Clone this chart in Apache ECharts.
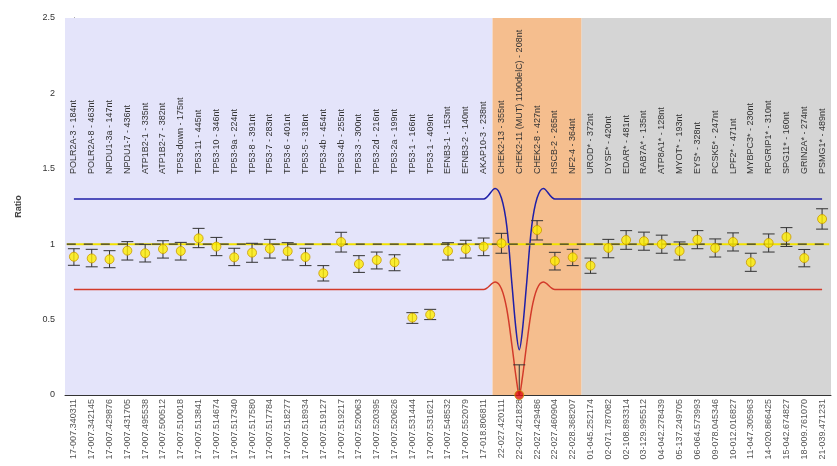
<!DOCTYPE html>
<html>
<head>
<meta charset="utf-8">
<script src="https://cdn.jsdelivr.net/npm/echarts@6/dist/echarts.min.js"></script>
<style>html,body{margin:0;padding:0;background:#fff}#c{width:837px;height:466px}</style>
</head>
<body>
<div id="c"></div>
<script>
// ---------- data ----------
const categories = [
  "POLR2A-3 - 184nt","POLR2A-8 - 463nt","NPDU1-3a - 147nt","NPDU1-7 - 436nt","ATP1B2-1 - 335nt",
  "ATP1B2-7 - 382nt","TP53-down - 175nt","TP53-11 - 445nt","TP53-10 - 346nt","TP53-9a - 224nt",
  "TP53-8 - 391nt","TP53-7 - 283nt","TP53-6 - 401nt","TP53-5 - 318nt","TP53-4b - 454nt",
  "TP53-4b - 255nt","TP53-3 - 300nt","TP53-2d - 216nt","TP53-2a - 199nt","TP53-1 - 166nt",
  "TP53-1 - 409nt","EFNB3-1 - 153nt","EFNB3-2 - 140nt","AKAP10-3 - 238nt","CHEK2-13 - 355nt",
  "CHEK2-11 (MUT) 1100delC) - 208nt","CHEK2-8 - 427nt","HSCB-2 - 265nt","NF2-4 - 364nt","UROD* - 372nt",
  "DYSF* - 420nt","EDAR* - 481nt","RAB7A* - 135nt","ATP8A1* - 128nt","MYOT* - 193nt",
  "EYS* - 328nt","PCSK5* - 247nt","LPF2* - 471nt","MYBPC3* - 230nt","RPGRIP1* - 310nt",
  "SPG11* - 160nt","GRIN2A* - 274nt","PSMG1* - 489nt"
];
const positions = [
  "17-007.340311","17-007.342145","17-007.429876","17-007.431705","17-007.495538",
  "17-007.500512","17-007.510018","17-007.513841","17-007.514674","17-007.517340",
  "17-007.517580","17-007.517784","17-007.518277","17-007.518934","17-007.519127",
  "17-007.519217","17-007.520063","17-007.520395","17-007.520626","17-007.531444",
  "17-007.531621","17-007.548532","17-007.552079","17-018.806811","22-027.420111",
  "22-027.421828","22-027.429486","22-027.460904","22-028.368207","01-045.252174",
  "02-071.787082","02-108.893314","03-129.995512","04-042.278439","05-137.249705",
  "06-064.573993","09-078.045346","10-012.016827","11-047.305963","14-020.866425",
  "15-042.674827","18-009.761070","21-039.471231"
];
const ratios = [
  0.917,0.906,0.900,0.957,0.940,0.968,0.955,1.039,0.984,0.913,
  0.944,0.970,0.953,0.915,0.807,1.015,0.869,0.895,0.880,0.513,
  0.533,0.955,0.968,0.984,1.006,0.000,1.094,0.889,0.913,0.858,
  0.975,1.028,1.020,1.000,0.955,1.030,0.975,1.015,0.880,1.008,
  1.048,0.908,1.167
];
const lowerBounds = [
  0.860,0.850,0.844,0.895,0.882,0.908,0.895,0.977,0.924,0.858,
  0.880,0.908,0.895,0.858,0.756,0.948,0.813,0.836,0.824,0.475,
  0.500,0.895,0.908,0.924,0.940,-0.200,1.028,0.829,0.858,0.807,
  0.910,0.966,0.960,0.940,0.895,0.970,0.915,0.955,0.820,0.948,
  0.985,0.850,1.100
];
const upperBounds = [
  0.970,0.966,0.957,1.017,0.999,1.023,1.012,1.105,1.045,0.973,
  1.006,1.032,1.010,0.973,0.858,1.079,0.924,0.948,0.930,0.546,
  0.568,1.010,1.026,1.041,1.072,0.200,1.156,0.946,0.966,0.908,
  1.032,1.090,1.080,1.060,1.015,1.090,1.035,1.075,0.940,1.068,
  1.110,0.965,1.235
];
// upper (blue) and lower (red) threshold curves: x in category index units
const upperCurveX = [0, 22.5, 23, 23.65, 24, 24.3, 24.6, 24.83, 25, 25.17, 25.4, 25.7, 26, 26.35, 27, 27.5, 42];
const upperCurveY = [1.3, 1.3, 1.3, 1.37, 1.306, 1.12, 0.72, 0.42, 0.3, 0.42, 0.72, 1.12, 1.306, 1.37, 1.3, 1.3, 1.3];
const lowerCurveX = [0, 22.5, 23, 23.65, 24, 24.3, 24.6, 24.83, 25, 25.17, 25.4, 25.7, 26, 26.35, 27, 27.5, 42];
const lowerCurveY = [0.7, 0.7, 0.7, 0.75, 0.705, 0.57, 0.32, 0.11, 0.0, 0.11, 0.32, 0.57, 0.705, 0.75, 0.7, 0.7, 0.7];
const referenceLevel = 1.0;
const groupSizes = [24, 5, 14];

// ---------- chart ----------
const LABEL_START = 1.465;
const bandColors = ['#E4E4FA', '#F5BE8E', '#D5D5D5'];
const bands = [];
let start = -0.5;
groupSizes.forEach((n, k) => {
  bands.push([{ xAxis: start, yAxis: 0, itemStyle: { color: bandColors[k] } }, { xAxis: start + n, yAxis: 2.5 }]);
  start += n;
});
const n = categories.length;
const chart = echarts.init(document.getElementById('c'));
chart.setOption({
  animation: false,
  backgroundColor: '#fff',
  grid: { left: 65, right: 6, top: 18, bottom: 71 },
  xAxis: [
    {
      type: 'category', data: positions, position: 'bottom',
      axisLine: { lineStyle: { color: '#333' } },
      axisTick: { alignWithLabel: true, length: 5, lineStyle: { color: '#333' } },
      axisLabel: { rotate: 90, fontSize: 9, color: '#555', fontFamily: 'Liberation Sans, Arial', margin: 4, interval: 0 }
    },
    { type: 'value', min: -0.5, max: n - 0.5, show: false }
  ],
  yAxis: {
    type: 'value', min: 0, max: 2.5, interval: 0.5, offset: 8,
    name: 'Ratio', nameLocation: 'middle', nameGap: 34, nameRotate: 90,
    nameTextStyle: { fontSize: 9, fontWeight: 'bold', color: '#444', fontFamily: 'Liberation Sans, Arial' },
    axisLine: { show: true, lineStyle: { color: '#333' } },
    axisTick: { show: true, length: 8, lineStyle: { color: '#333' } },
    splitLine: { show: false },
    axisLabel: { fontSize: 9, color: '#333', margin: 2, fontFamily: 'Liberation Sans, Arial',
      formatter: v => String(v) }
  },
  series: [
    {
      type: 'line', xAxisIndex: 1, smooth: 0.35, symbol: 'none', z: 3,
      lineStyle: { color: '#1F1FA8', width: 1.5 },
      data: upperCurveX.map((x, i) => [x, upperCurveY[i]])
    },
    {
      type: 'line', xAxisIndex: 1, smooth: 0.35, symbol: 'none', z: 3,
      lineStyle: { color: '#D23A2A', width: 1.5 },
      data: lowerCurveX.map((x, i) => [x, lowerCurveY[i]])
    },
    {
      type: 'line', xAxisIndex: 1, symbol: 'none', z: 4,
      lineStyle: { color: '#F2E200', width: 2 },
      data: [[-0.4, referenceLevel], [n - 0.6, referenceLevel]],
      markArea: { silent: true, label: { show: false }, data: bands }
    },
    {
      type: 'line', xAxisIndex: 1, symbol: 'none', z: 4,
      lineStyle: { color: '#333', width: 1.2, type: [9, 8] },
      data: [[-0.4, referenceLevel], [n - 0.6, referenceLevel]]
    },
    {
      type: 'custom', z: 5, clip: true,
      data: ratios.map((v, i) => [i, lowerBounds[i], upperBounds[i]]),
      renderItem: (params, api) => {
        const lo = api.coord([api.value(0), api.value(1)]);
        const hi = api.coord([api.value(0), api.value(2)]);
        const w = 6;
        const st = { stroke: '#333', lineWidth: 1 };
        return {
          type: 'group', children: [
            { type: 'line', shape: { x1: lo[0], y1: lo[1], x2: hi[0], y2: hi[1] }, style: st },
            { type: 'line', shape: { x1: lo[0] - w, y1: lo[1], x2: lo[0] + w, y2: lo[1] }, style: st },
            { type: 'line', shape: { x1: hi[0] - w, y1: hi[1], x2: hi[0] + w, y2: hi[1] }, style: st }
          ]
        };
      }
    },
    {
      type: 'scatter', z: 6, symbolSize: 9,
      data: ratios.map((v, i) => [i, v]),
      itemStyle: {
        color: p => (p.data[1] <= 0.05 ? '#E01010' : '#FFEE00'),
        borderColor: '#C99A00', borderWidth: 1
      }
    },
    {
      type: 'custom', z: 7,
      data: categories.map((c, i) => [i, LABEL_START]),
      renderItem: (params, api) => {
        const p = api.coord([api.value(0), api.value(1)]);
        return {
          type: 'text', x: p[0], y: p[1], rotation: Math.PI / 2,
          style: { text: categories[params.dataIndex], x: 0, y: 0, align: 'left', verticalAlign: 'middle',
            fontSize: 9, fill: '#333', fontFamily: 'Liberation Sans, Arial' }
        };
      }
    }
  ]
});
</script>
</body>
</html>
